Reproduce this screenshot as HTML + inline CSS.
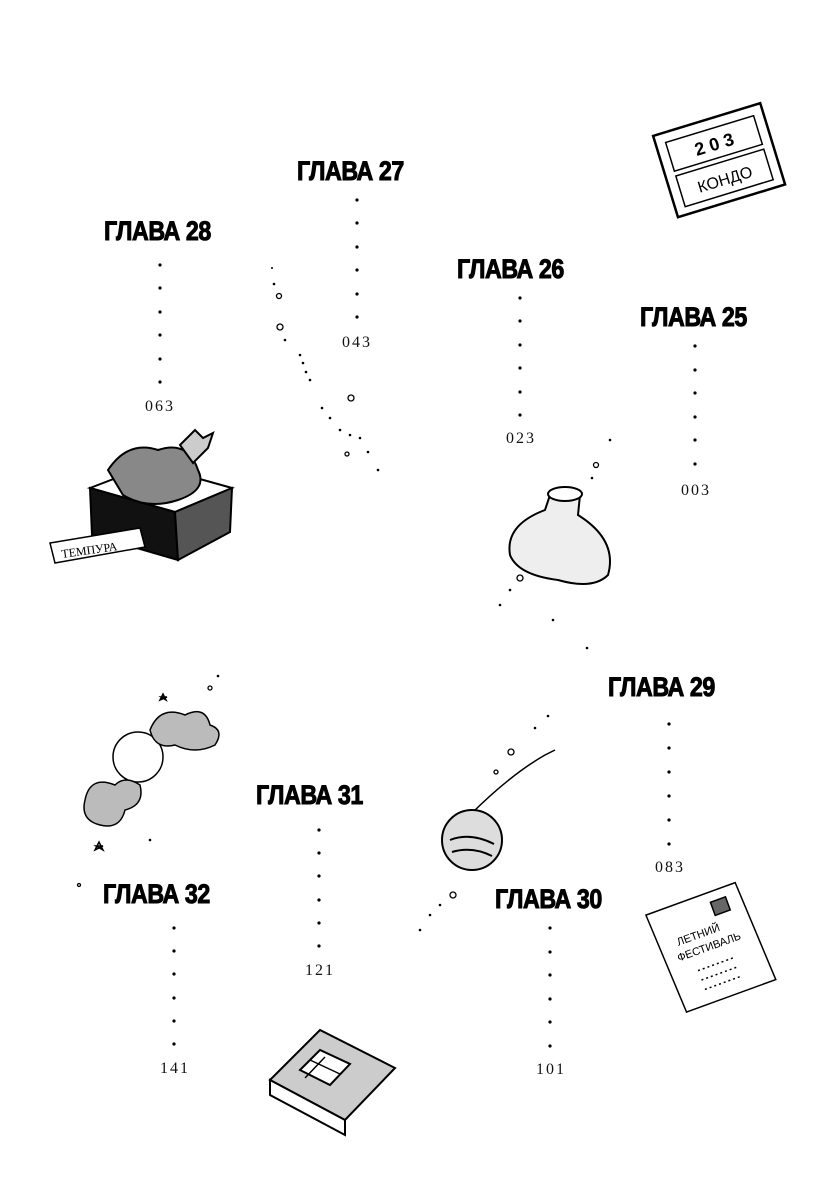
<!DOCTYPE html>
<html><head><meta charset="utf-8"><style>
html,body{margin:0;padding:0;background:#fff;}
body{width:839px;height:1200px;position:relative;overflow:hidden;}
.h{position:absolute;font-family:"Liberation Sans",sans-serif;font-weight:900;font-size:27px;line-height:28px;color:#000;white-space:nowrap;transform-origin:0 0;transform:scaleX(0.86);letter-spacing:-0.5px;-webkit-text-stroke:1px #000;}
.n{position:absolute;font-family:"Liberation Serif",serif;font-size:16px;letter-spacing:2px;color:#111;width:60px;text-align:center;line-height:16px;}
</style></head><body>
<div class="h" style="left:104px;top:217px">ГЛАВА 28</div>
<div class="h" style="left:297px;top:157px">ГЛАВА 27</div>
<div class="h" style="left:457px;top:255px">ГЛАВА 26</div>
<div class="h" style="left:640px;top:303px">ГЛАВА 25</div>
<div class="h" style="left:608px;top:673px">ГЛАВА 29</div>
<div class="h" style="left:256px;top:781px">ГЛАВА 31</div>
<div class="h" style="left:103px;top:880px">ГЛАВА 32</div>
<div class="h" style="left:495px;top:885px">ГЛАВА 30</div>
<div class="n" style="left:130px;top:399px">063</div>
<div class="n" style="left:327px;top:335px">043</div>
<div class="n" style="left:491px;top:431px">023</div>
<div class="n" style="left:666px;top:483px">003</div>
<div class="n" style="left:640px;top:860px">083</div>
<div class="n" style="left:290px;top:963px">121</div>
<div class="n" style="left:145px;top:1061px">141</div>
<div class="n" style="left:521px;top:1062px">101</div>
<svg width="839" height="1200" style="position:absolute;left:0;top:0" xmlns="http://www.w3.org/2000/svg">
<g fill="#000">
<circle cx="160" cy="265" r="1.6"/><circle cx="160" cy="288" r="1.6"/><circle cx="160" cy="312" r="1.6"/><circle cx="160" cy="335" r="1.6"/><circle cx="160" cy="359" r="1.6"/><circle cx="160" cy="382" r="1.6"/>
<circle cx="357" cy="200" r="1.6"/><circle cx="357" cy="223" r="1.6"/><circle cx="357" cy="247" r="1.6"/><circle cx="357" cy="270" r="1.6"/><circle cx="357" cy="294" r="1.6"/><circle cx="357" cy="317" r="1.6"/>
<circle cx="520" cy="298" r="1.6"/><circle cx="520" cy="321" r="1.6"/><circle cx="520" cy="345" r="1.6"/><circle cx="520" cy="368" r="1.6"/><circle cx="520" cy="392" r="1.6"/><circle cx="520" cy="415" r="1.6"/>
<circle cx="695" cy="346" r="1.6"/><circle cx="695" cy="370" r="1.6"/><circle cx="695" cy="393" r="1.6"/><circle cx="695" cy="417" r="1.6"/><circle cx="695" cy="440" r="1.6"/><circle cx="695" cy="464" r="1.6"/>
<circle cx="669" cy="724" r="1.6"/><circle cx="669" cy="748" r="1.6"/><circle cx="669" cy="772" r="1.6"/><circle cx="669" cy="796" r="1.6"/><circle cx="669" cy="820" r="1.6"/><circle cx="669" cy="844" r="1.6"/>
<circle cx="319" cy="830" r="1.6"/><circle cx="319" cy="853" r="1.6"/><circle cx="319" cy="876" r="1.6"/><circle cx="319" cy="900" r="1.6"/><circle cx="319" cy="923" r="1.6"/><circle cx="319" cy="946" r="1.6"/>
<circle cx="174" cy="928" r="1.6"/><circle cx="174" cy="951" r="1.6"/><circle cx="174" cy="974" r="1.6"/><circle cx="174" cy="998" r="1.6"/><circle cx="174" cy="1021" r="1.6"/><circle cx="174" cy="1044" r="1.6"/>
<circle cx="550" cy="928" r="1.6"/><circle cx="550" cy="952" r="1.6"/><circle cx="550" cy="975" r="1.6"/><circle cx="550" cy="999" r="1.6"/><circle cx="550" cy="1022" r="1.6"/><circle cx="550" cy="1046" r="1.6"/>
<circle cx="272" cy="268" r="1"/><circle cx="274" cy="284" r="1.3"/><circle cx="285" cy="340" r="1.3"/><circle cx="300" cy="355" r="1.3"/><circle cx="303" cy="363" r="1.3"/><circle cx="306" cy="372" r="1.3"/><circle cx="310" cy="380" r="1.3"/><circle cx="322" cy="408" r="1.3"/><circle cx="330" cy="418" r="1.3"/><circle cx="340" cy="430" r="1.3"/><circle cx="350" cy="435" r="1.3"/><circle cx="360" cy="438" r="1.3"/><circle cx="368" cy="452" r="1.3"/><circle cx="378" cy="470" r="1.3"/>
<circle cx="610" cy="440" r="1.3"/><circle cx="592" cy="478" r="1.3"/><circle cx="510" cy="590" r="1.3"/><circle cx="500" cy="605" r="1.3"/><circle cx="553" cy="620" r="1.3"/><circle cx="587" cy="648" r="1.3"/>
<circle cx="548" cy="716" r="1.3"/><circle cx="535" cy="728" r="1.3"/><circle cx="440" cy="905" r="1.3"/><circle cx="430" cy="915" r="1.3"/><circle cx="420" cy="930" r="1.3"/>
<circle cx="218" cy="676" r="1.3"/><circle cx="150" cy="840" r="1.3"/>
</g>
<g fill="none" stroke="#000" stroke-width="1.3">
<circle cx="279" cy="296" r="2.5"/><circle cx="280" cy="327" r="3"/><circle cx="351" cy="398" r="3"/><circle cx="347" cy="454" r="2"/><circle cx="596" cy="465" r="2.5"/><circle cx="520" cy="578" r="3"/><circle cx="511" cy="752" r="3"/><circle cx="496" cy="772" r="2"/><circle cx="453" cy="895" r="3"/><circle cx="79" cy="885" r="1.5"/><circle cx="210" cy="688" r="2"/>
</g>
<g transform="rotate(-17 718 160)" stroke="#000" fill="#fff" stroke-width="2.5">
<rect x="663" y="118" width="112" height="85"/>
<rect x="673" y="128" width="92" height="30" stroke-width="1.5"/>
<rect x="673" y="163" width="92" height="32" stroke-width="1.5"/>
<text x="719" y="150" text-anchor="middle" font-family="Liberation Sans,sans-serif" font-size="18" font-weight="bold" fill="#000" stroke="none">2 0 3</text>
<text x="719" y="186" text-anchor="middle" font-family="Liberation Sans,sans-serif" font-size="16" fill="#000" stroke="none">КОНДО</text>
</g>
<g stroke="#000" stroke-width="2">
<polygon points="90,488 150,465 232,488 175,512" fill="#fff"/>
<polygon points="90,488 175,512 178,560 92,535" fill="#111"/>
<polygon points="175,512 232,488 230,532 178,560" fill="#555"/>
<path d="M108,470 q20,-30 50,-20 q30,-10 40,20 q10,20 -20,30 q-30,10 -55,-5 z" fill="#888"/>
<path d="M180,445 l15,-15 l8,8 l10,-5 l-5,15 l-15,15 z" fill="#ccc"/>
<polygon points="50,543 140,528 145,547 55,563" fill="#fff" stroke-width="1.5"/>
<text x="62" y="558" transform="rotate(-8 62 558)" font-family="Liberation Serif,serif" font-size="12" fill="#000" stroke="none">ТЕМПУРА</text>
</g>
<g stroke="#000" stroke-width="2" fill="#fff">
<path d="M550,495 q15,-10 30,0 l-2,20 q40,25 30,60 q-15,15 -50,5 q-40,-5 -48,-25 q-5,-30 35,-45 z" fill="#eee"/>
<ellipse cx="565" cy="494" rx="17" ry="7"/>
</g>
<g stroke="#000" stroke-width="2" fill="#ddd">
<path d="M470,815 q40,-40 75,-60 l10,-5" fill="none" stroke-width="1.5"/>
<circle cx="472" cy="840" r="30"/>
<path d="M450,840 q20,-8 44,4 M452,852 q20,-6 40,4" fill="none"/>
</g>
<g stroke="#000" stroke-width="1.5">
<circle cx="138" cy="757" r="25" fill="#fff"/>
<path d="M150,730 q10,-25 35,-15 q20,-10 25,10 q15,5 5,20 q-20,10 -40,0 q-20,5 -25,-15 z" fill="#bbb"/>
<path d="M85,800 q5,-25 30,-15 q10,-10 25,0 q5,20 -15,25 q-5,20 -25,15 q-20,-5 -15,-25 z" fill="#bbb"/>
<path d="M160,700 l3,-6 l3,6 l-5,-3 h6 z M95,850 l4,-8 l4,8 l-7,-4 h7 z" fill="none"/>
</g>
<g stroke="#000" stroke-width="2">
<polygon points="270,1080 320,1030 395,1068 345,1120" fill="#ccc"/>
<polygon points="270,1080 345,1120 345,1135 270,1095" fill="#fff"/>
<polygon points="300,1070 320,1050 350,1064 330,1085" fill="#fff"/>
<path d="M310,1060 l30,14 M325,1057 l-20,21" fill="none" stroke-width="1.5"/>
</g>
<g transform="rotate(-20 710 945)" stroke="#000" stroke-width="1.5" fill="#fff">
<polygon points="660,895 755,895 760,1000 665,1000"/>
<text x="680" y="935" font-family="Liberation Sans,sans-serif" font-size="11" fill="#000" stroke="none">ЛЕТНИЙ</text>
<text x="675" y="950" font-family="Liberation Sans,sans-serif" font-size="11" fill="#000" stroke="none">ФЕСТИВАЛЬ</text>
<rect x="725" y="905" width="16" height="14" fill="#666"/>
<path d="M690,965 h40 M690,975 h40 M690,985 h40" stroke-dasharray="2 3"/>
</g>
</svg>
</body></html>
